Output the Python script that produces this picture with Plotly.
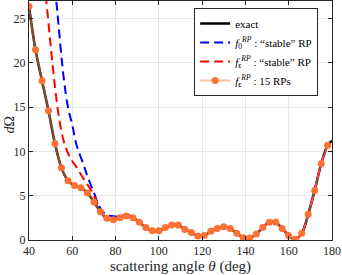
import plotly.graph_objects as go

# scattering angles (deg) for the 15-RP sampled curve
theta_rp = [40, 43, 46, 49, 52, 55, 58, 61, 64, 67, 70, 73, 76, 79, 82, 85, 88, 91, 94,
            97, 100, 103, 106, 109, 112, 115, 118, 121, 124, 127, 130, 133, 136, 139,
            142, 145, 148, 151, 154, 157, 160, 163, 166, 169, 172, 175, 178]
val_rp = [26.4, 21.5, 18.0, 14.6, 10.9, 8.15, 6.7, 6.15, 5.9, 5.3, 4.3, 3.2, 2.45, 2.3,
          2.5, 2.7, 2.5, 2.0, 1.4, 1.05, 1.05, 1.4, 1.7, 1.7, 1.2, 0.85, 0.45, 0.5, 1.0,
          1.3, 1.5, 1.3, 0.75, 0.26, 0.22, 0.68, 1.4, 2.0, 2.0, 1.3, 0.5, 0.08, 0.75,
          2.9, 5.6, 8.6, 10.7]

# exact curve
theta_exact = theta_rp + [180]
val_exact = val_rp + [11.2]

# f_0^RP "stable" RP (blue)
theta_f0 = [52, 53, 56, 58, 60, 62, 65, 67, 70, 72, 74, 76, 78, 80, 82, 84, 86, 88, 91,
            94, 97, 100, 103, 106, 109, 112, 115, 118, 121, 124, 127, 130, 133, 136, 139,
            142, 145, 148, 151, 154, 157, 160, 163, 166, 169, 172, 175, 178, 180]
val_f0 = [28.5, 26.0, 18.4, 15.0, 13.0, 10.7, 8.65, 7.2, 5.35, 4.05, 3.25, 2.85, 2.7,
          2.65, 2.7, 2.85, 2.8, 2.55, 2.0, 1.4, 1.05, 1.05, 1.4, 1.7, 1.7, 1.2, 0.85,
          0.45, 0.5, 1.0, 1.3, 1.5, 1.3, 0.75, 0.26, 0.22, 0.68, 1.4, 2.0, 2.0, 1.3,
          0.5, 0.08, 0.75, 2.9, 5.6, 8.6, 10.7, 11.2]

# f_e^RP "stable" RP (red)
theta_fe = [47, 48, 50, 52, 54, 56, 58, 60, 62, 64, 66, 68, 70, 72, 74, 76, 79, 82, 85,
            88, 91, 94, 97, 100, 103, 106, 109, 112, 115, 118, 121, 124, 127, 130, 133,
            136, 139, 142, 145, 148, 151, 154, 157, 160, 163, 166, 169, 172, 175, 178, 180]
val_fe = [29.2, 27.0, 22.0, 17.3, 13.6, 11.2, 9.8, 8.9, 8.2, 7.4, 6.6, 5.9, 5.0, 3.9,
          2.9, 2.45, 2.3, 2.5, 2.7, 2.5, 2.0, 1.4, 1.05, 1.05, 1.4, 1.7, 1.7, 1.2, 0.85,
          0.45, 0.5, 1.0, 1.3, 1.5, 1.3, 0.75, 0.26, 0.22, 0.68, 1.4, 2.0, 2.0, 1.3,
          0.5, 0.08, 0.75, 2.9, 5.6, 8.6, 10.7, 11.3]

x_ticks = [40, 60, 80, 100, 120, 140, 160, 180]
y_ticks = [0, 5, 10, 15, 20, 25]

SERIF = "Liberation Serif, DejaVu Serif, serif"
INK = "#262626"

fig = go.Figure()
fig.add_trace(go.Scatter(x=theta_exact, y=val_exact, mode="lines", name="exact",
                         line=dict(color="black", width=2.5, shape="spline")))
fig.add_trace(go.Scatter(x=theta_f0, y=val_f0, mode="lines",
                         name="<i>f</i><sub>0</sub><sup><i>RP</i></sup> : “stable” RP",
                         line=dict(color="#0000ff", width=2, dash="9px,5px", shape="spline")))
fig.add_trace(go.Scatter(x=theta_fe, y=val_fe, mode="lines",
                         name="<i>f</i><sub>ϵ</sub><sup><i>RP</i></sup> : “stable” RP",
                         line=dict(color="#ff0000", width=2, dash="9px,5px", shape="spline")))
fig.add_trace(go.Scatter(x=theta_rp, y=val_rp, mode="lines+markers",
                         name="<i>f</i><sub>ϵ</sub><sup><i>RP</i></sup> : 15 RPs",
                         line=dict(color="rgba(255,140,90,0.55)", width=2, shape="spline"),
                         marker=dict(color="#ff7033", size=7)))

axis_common = dict(showline=True, linecolor=INK, linewidth=1, mirror="ticks",
                   ticks="inside", ticklen=4, tickcolor=INK, automargin=False,
                   showgrid=True, gridcolor="#e6e6e6", gridwidth=1, zeroline=False,
                   tickfont=dict(family=SERIF, size=12, color=INK))

fig.update_xaxes(range=[40, 180], tickvals=x_ticks, ticktext=[str(v) for v in x_ticks],
                 **axis_common)
fig.update_yaxes(range=[0, 27], tickvals=y_ticks, ticktext=[str(v) for v in y_ticks],
                 **axis_common)

fig.add_annotation(text="scattering angle <i>θ</i> (deg)", xref="paper", yref="paper",
                   x=0.5, y=-0.068, xanchor="center", yanchor="top", showarrow=False,
                   font=dict(family=SERIF, size=15, color=INK))
fig.add_annotation(text="<i>d</i>Ω", xref="paper", yref="paper",
                   x=-0.097, y=0.48, xanchor="left", yanchor="middle", showarrow=False,
                   textangle=-90, font=dict(family=SERIF, size=14, color=INK))

fig.update_layout(
    width=342, height=275,
    margin=dict(l=29, r=10, t=1, b=35),
    paper_bgcolor="white", plot_bgcolor="white",
    showlegend=True,
    legend=dict(x=0.545, y=0.971, xanchor="left", yanchor="top",
                bgcolor="white", bordercolor=INK, borderwidth=1,
                font=dict(family=SERIF, size=11, color="black"),
                tracegroupgap=0, itemwidth=30),
)

fig.write_html("out.html", config={"displayModeBar": False},
               post_script="document.body.style.margin='0';")
